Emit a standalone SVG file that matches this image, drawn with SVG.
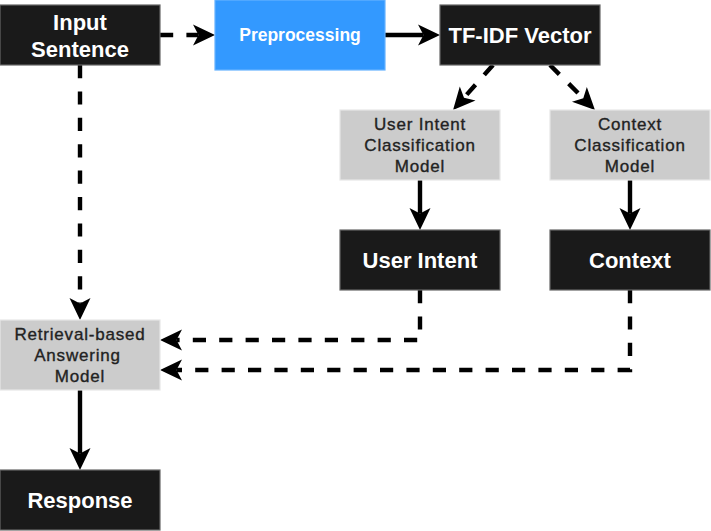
<svg xmlns="http://www.w3.org/2000/svg" width="711" height="531" viewBox="0 0 711 531">
<style>
.dark{fill:#1a1a1a;stroke:#666666;stroke-width:1.2}
.blue{fill:#3399ff;stroke:#66b2ff;stroke-width:1.2}
.grey{fill:#cccccc;stroke:#e6e6e6;stroke-width:1.2}
text{font-family:"Liberation Sans",Arial,sans-serif;font-weight:bold;text-anchor:middle}
.wt{fill:#ffffff;font-size:22px}
.bt{fill:#ffffff;font-size:17.5px}
.gt{fill:#222222;font-size:17px;font-weight:normal;letter-spacing:0.8px;stroke:#222222;stroke-width:0.35}
.c{fill:none;stroke:#000000;stroke-width:4.4}
.d{stroke-dasharray:13.2 13.2}
</style>
<defs>
<marker id="ah" markerUnits="userSpaceOnUse" markerWidth="24" markerHeight="24" refX="5.5" refY="11" orient="auto" overflow="visible">
<path d="M0,0.5 L22,11 L0,21.5 L5.5,11 Z" fill="#000000"/>
</marker>
</defs>
<g id="connectors">
<path class="c d" d="M160,35 H198.5" marker-end="url(#ah)"/>
<path class="c" d="M385,35 H423.5" marker-end="url(#ah)"/>
<path class="c d" d="M493,65 L464,97.7" marker-end="url(#ah)"/>
<path class="c d" d="M550,65 L583.3,98.3" marker-end="url(#ah)"/>
<path class="c" d="M420,180 V213.5" marker-end="url(#ah)"/>
<path class="c" d="M630,180 V213.5" marker-end="url(#ah)"/>
<path class="c d" d="M80,65 V303.5" marker-end="url(#ah)"/>
<path class="c d" d="M420,290 V340 H176.5" marker-end="url(#ah)"/>
<path class="c d" d="M630,290 V370 H176.5" marker-end="url(#ah)"/>
<path class="c" d="M80,390 V453.5" marker-end="url(#ah)"/>
</g>
<g id="input-sentence">
<rect class="dark" x="0" y="5" width="160" height="60"/>
<text class="wt" x="80" y="30">Input</text>
<text class="wt" x="80" y="56.5">Sentence</text>
</g>
<g id="preprocessing">
<rect class="blue" x="215" y="0" width="170" height="70"/>
<text class="bt" x="300" y="41">Preprocessing</text>
</g>
<g id="tfidf-vector">
<rect class="dark" x="440" y="5" width="160" height="60"/>
<text class="wt" x="520" y="42.5">TF-IDF Vector</text>
</g>
<g id="user-intent-model">
<rect class="grey" x="340" y="110" width="160" height="70"/>
<text class="gt" x="420" y="130">User Intent</text>
<text class="gt" x="420" y="151">Classification</text>
<text class="gt" x="420" y="172">Model</text>
</g>
<g id="context-model">
<rect class="grey" x="550" y="110" width="160" height="70"/>
<text class="gt" x="630" y="130">Context</text>
<text class="gt" x="630" y="151">Classification</text>
<text class="gt" x="630" y="172">Model</text>
</g>
<g id="user-intent">
<rect class="dark" x="340" y="230" width="160" height="60"/>
<text class="wt" x="420" y="268">User Intent</text>
</g>
<g id="context">
<rect class="dark" x="550" y="230" width="160" height="60"/>
<text class="wt" x="630" y="268">Context</text>
</g>
<g id="retrieval-model">
<rect class="grey" x="0" y="320" width="160" height="70"/>
<text class="gt" x="80" y="340">Retrieval-based</text>
<text class="gt" x="77.5" y="361">Answering</text>
<text class="gt" x="80" y="382">Model</text>
</g>
<g id="response">
<rect class="dark" x="0" y="470" width="160" height="60"/>
<text class="wt" x="80" y="508">Response</text>
</g>
</svg>
